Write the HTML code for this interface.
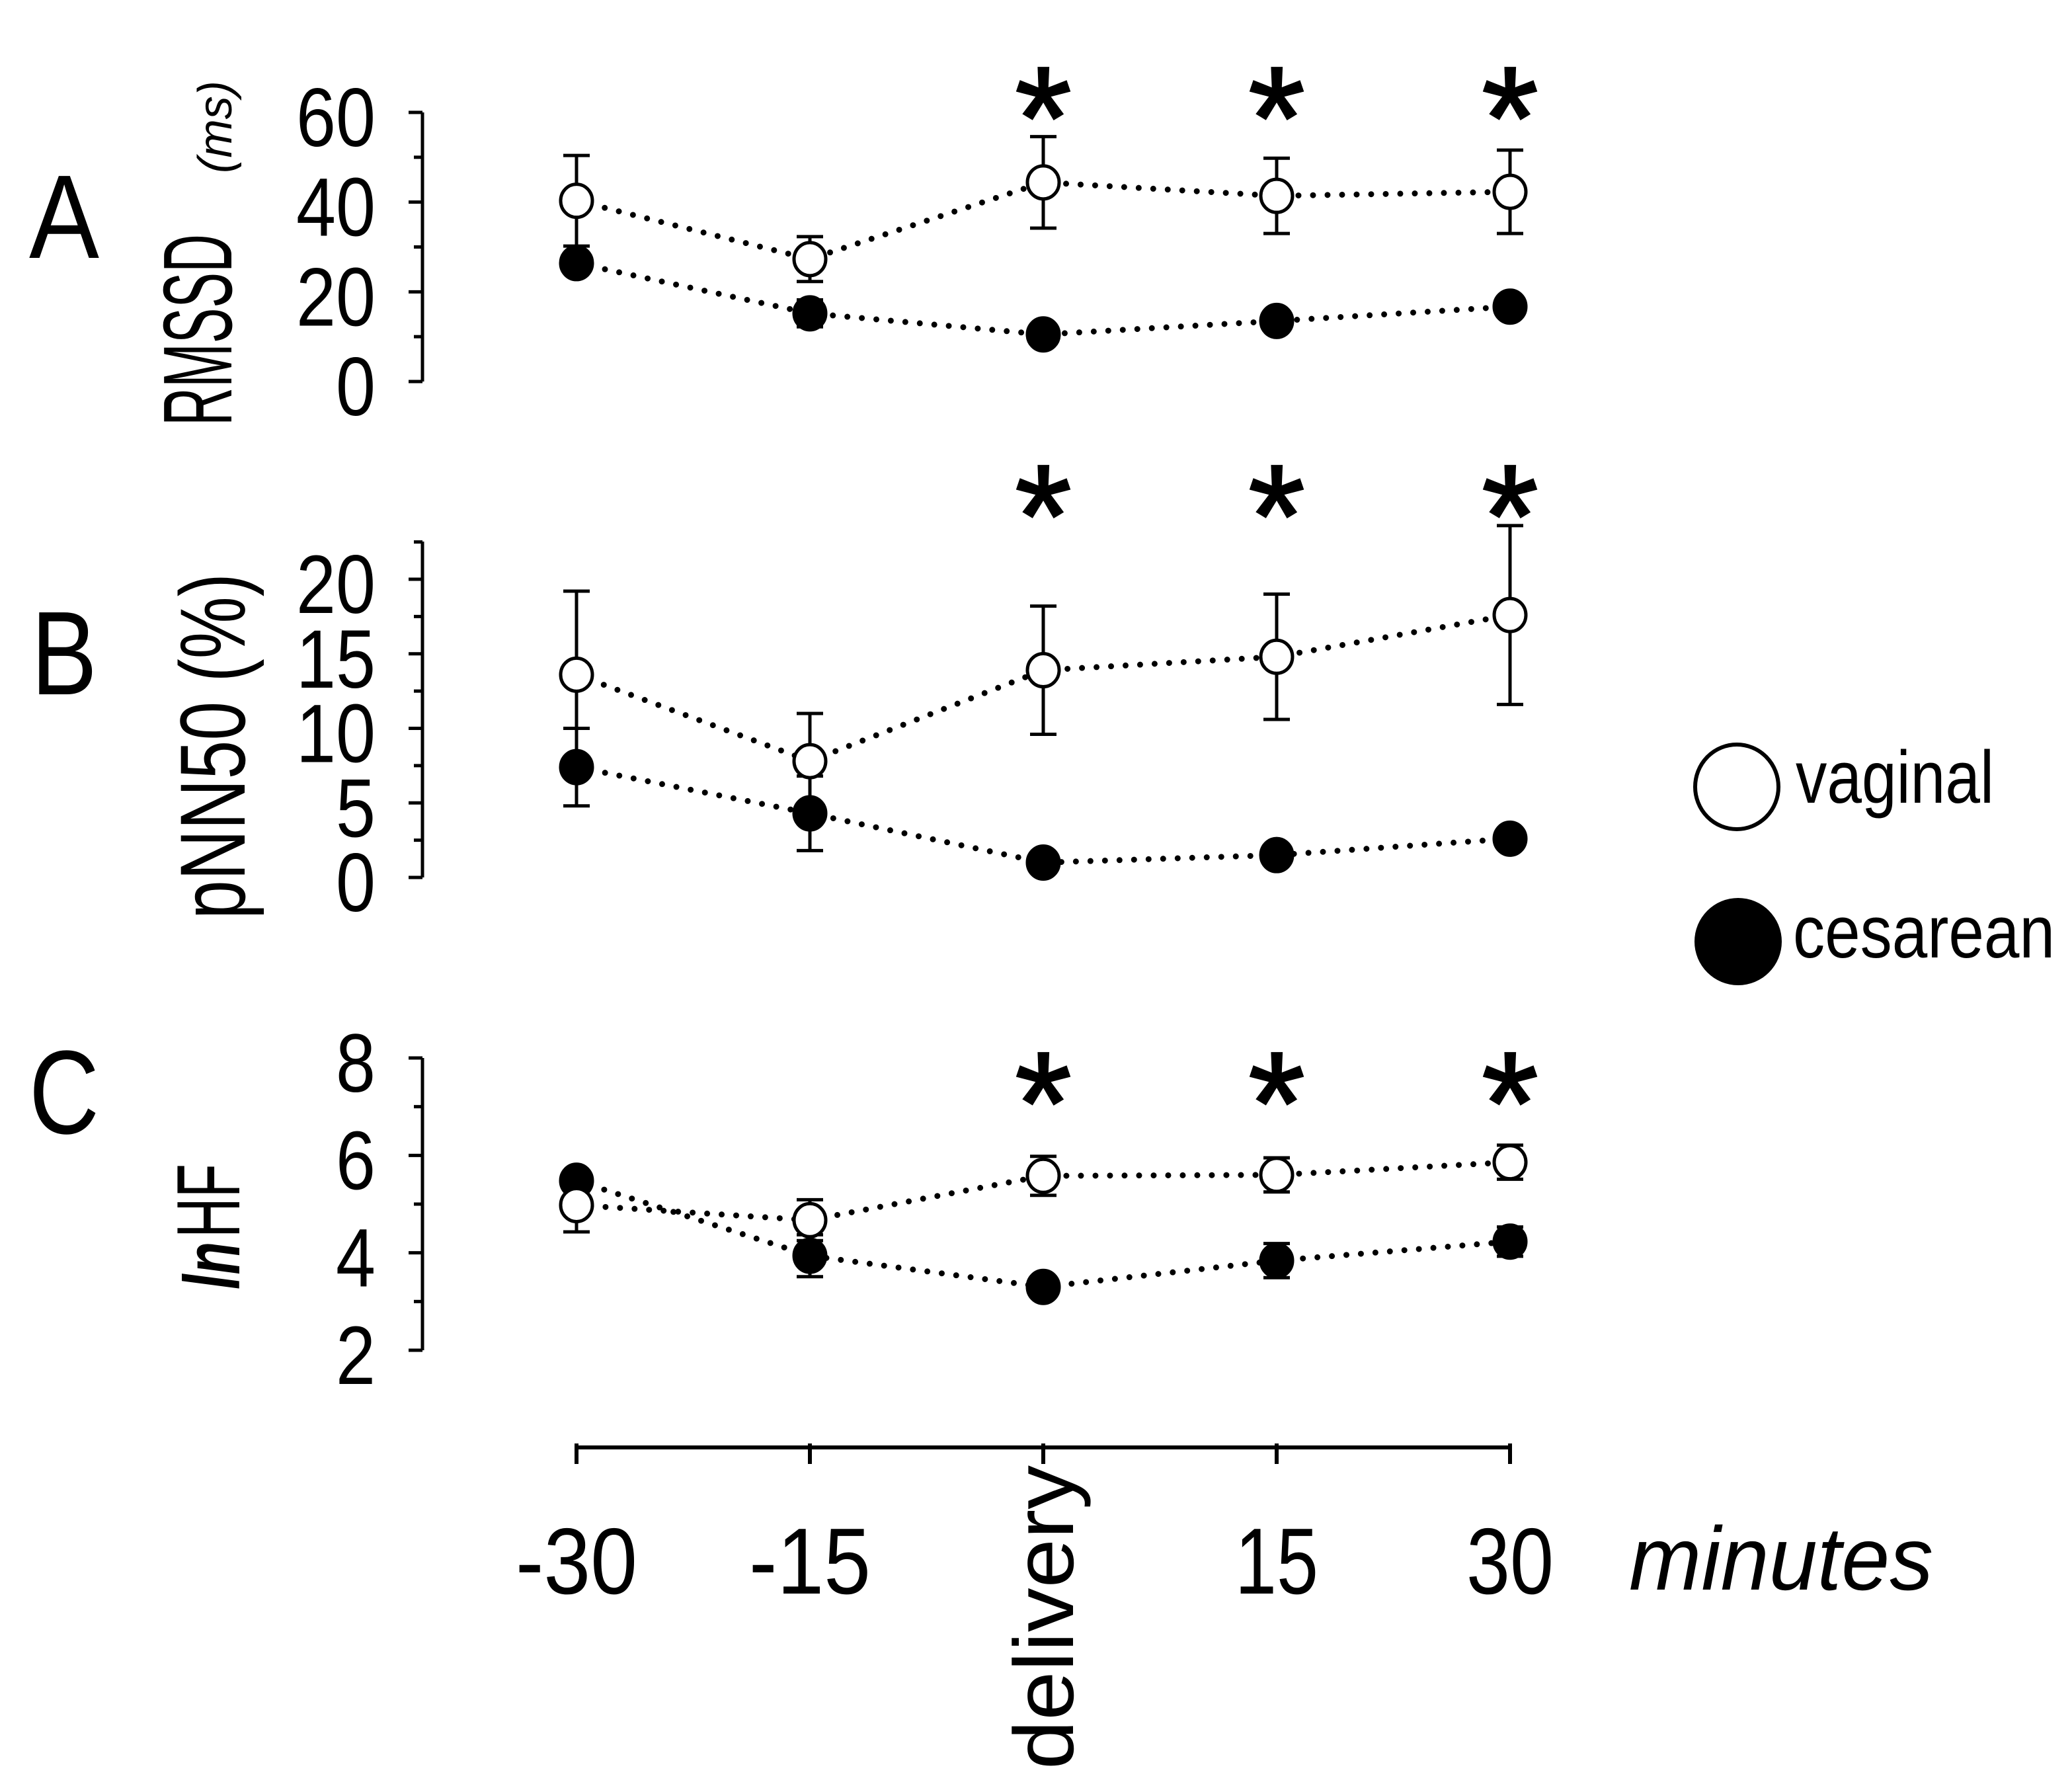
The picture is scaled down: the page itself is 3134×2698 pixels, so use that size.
<!DOCTYPE html>
<html><head><meta charset="utf-8"><style>
html,body{margin:0;padding:0;background:#fff;}
svg{display:block;font-family:"Liberation Sans",Arial,sans-serif;}
</style></head><body>
<svg id="chart" width="3134" height="2698" viewBox="0 0 3134 2698" xmlns="http://www.w3.org/2000/svg">
<g id="layer-lines"></g>
<g id="layer-err"></g>
<g id="layer-marks"></g>
<g id="layer-axes"></g>
<g id="layer-text"></g>
</svg>
<script>
// ---- data ----
const categories = ["-30", "-15", "delivery", "15", "30"];
const rmssdVag = [40.3, 27.3, 44.4, 41.4, 42.3];
const rmssdVagErr = [10.1, 5.0, 10.2, 8.4, 9.3];
const rmssdCes = [26.4, 15.2, 10.5, 13.5, 16.7];
const rmssdCesErr = [1.5, 3.0, 1.0, 1.0, 1.0];
const pnnVag = [13.6, 7.8, 13.9, 14.8, 17.6];
const pnnVagErr = [5.6, 3.2, 4.3, 4.2, 6.0];
const pnnCes = [7.4, 4.3, 1.0, 1.5, 2.6];
const pnnCesErr = [2.6, 2.5, 0.3, 0.3, 0.5];
const hfVag = [4.98, 4.67, 5.58, 5.6, 5.86];
const hfVagErr = [0.55, 0.42, 0.4, 0.35, 0.35];
const hfCes = [5.48, 3.94, 3.3, 3.84, 4.23];
const hfCesErr = [0.2, 0.43, 0.15, 0.35, 0.3];
const rmssdTicks = [0, 20, 40, 60];
const pnnTicks = [0, 5, 10, 15, 20];
const hfTicks = [2, 4, 6, 8];
const sigFlags = [false, false, true, true, true];

const NS = "http://www.w3.org/2000/svg";
function mk(tag, attrs, parent) {
  const e = document.createElementNS(NS, tag);
  for (const k in attrs) e.setAttribute(k, attrs[k]);
  parent.appendChild(e);
  return e;
}
const L = document.getElementById('layer-lines');
const E = document.getElementById('layer-err');
const M = document.getElementById('layer-marks');
const A = document.getElementById('layer-axes');
const T = document.getElementById('layer-text');

function xPos(i) { return 872 + i * 353; }
const panels = [
  {key:'a', vag:rmssdVag, vagE:rmssdVagErr, ces:rmssdCes, cesE:rmssdCesErr, ticks:rmssdTicks, min:0, max:60, y0:577, y1:170, top:170, minor:10, starY:150},
  {key:'b', vag:pnnVag, vagE:pnnVagErr, ces:pnnCes, cesE:pnnCesErr, ticks:pnnTicks, min:0, max:20, y0:1327, y1:876, top:819, minor:2.5, starY:752},
  {key:'c', vag:hfVag, vagE:hfVagErr, ces:hfCes, cesE:hfCesErr, ticks:hfTicks, min:2, max:8, y0:2042, y1:1600, top:1600, minor:1, starY:1640}
];

panels.forEach(p => {
  const yS = v => p.y0 - (v - p.min) / (p.max - p.min) * (p.y0 - p.y1);
  const ax = mk('line', {x1:639, x2:639, y1:p.top, y2:p.y0, stroke:'#000', 'stroke-width':5}, A);
  
  
  for (let v = p.min; v <= p.max + (p.top < p.y1 ? p.minor : 0) + 1e-6; v += p.minor) {
    const y = yS(v);
    if (y < p.top - 1) break;
    const major = p.ticks.some(t => Math.abs(t - v) < 1e-6);
    const tk = mk('line', {x1: major ? 618 : 626, x2:639, y1:y, y2:y, stroke:'#000', 'stroke-width':5}, A);
    
    
  }
  p.ticks.forEach(t => {
    const s = String(t);
    const tx = mk('text', {x:568, y:yS(t) + 51, 'font-size':125, 'text-anchor':'end', textLength:s.length*60, lengthAdjust:'spacingAndGlyphs', fill:'#000'}, T);
    
    
    tx.textContent = s;
  });
  [['ces', p.ces], ['vag', p.vag]].forEach(([nm, arr]) => {
    const pts = arr.map((v, i) => xPos(i) + ',' + yS(v)).join(' ');
    const pl = mk('polyline', {points:pts, fill:'none', stroke:'#000', 'stroke-width':9, 'stroke-linecap':'round', 'stroke-dasharray':'0 22'}, L);
    
    
  });
  [['ces', p.ces, p.cesE], ['vag', p.vag, p.vagE]].forEach(([nm, arr, err]) => {
    arr.forEach((v, i) => {
      const x = xPos(i), yt = yS(v + err[i]), yb = yS(v - err[i]);
      const eb = mk('path', {d:`M${x} ${yt}V${yb}M${x-20} ${yt}H${x+20}M${x-20} ${yb}H${x+20}`, stroke:'#000', 'stroke-width':5, fill:'none'}, E);
      
      
    });
  });
  [['ces', p.ces, '#000'], ['vag', p.vag, '#fff']].forEach(([nm, arr, fill]) => {
    arr.forEach((v, i) => {
      const c = mk('ellipse', {cx:xPos(i), cy:yS(v), rx:24, ry:25, fill:fill, stroke:'#000', 'stroke-width':5}, M);
      
      
    });
  });
  sigFlags.forEach((s, i) => {
    if (!s) return;
    const st = mk('text', {x:xPos(i), y:p.starY + 104, 'font-size':220, 'text-anchor':'middle', fill:'#000', stroke:'#000', 'stroke-width':3}, T);
    
    
    st.textContent = '*';
  });
});

const xa = mk('line', {x1:872, x2:2284, y1:2189, y2:2189, stroke:'#000', 'stroke-width':6}, A);


const xLabelWidths = [184, 184, 460, 126, 132];
categories.forEach((c, i) => {
  const tk = mk('line', {x1:xPos(i), x2:xPos(i), y1:2183, y2:2214, stroke:'#000', 'stroke-width':6}, A);
  
  
  let tx;
  if (c === 'delivery') {
    tx = mk('text', {x:0, y:0, 'font-size':128, 'text-anchor':'middle', transform:`translate(${xPos(i)+45},2446) rotate(-90)`, textLength:460, lengthAdjust:'spacingAndGlyphs', fill:'#000'}, T);
  } else {
    tx = mk('text', {x:xPos(i), y:2410, 'font-size':142, 'text-anchor':'middle', textLength:xLabelWidths[i], lengthAdjust:'spacingAndGlyphs', fill:'#000'}, T);
  }
  
  
  tx.textContent = c;
});
</script>
<script>
const T2 = document.getElementById('layer-text');
function tx2(attrs, txt, name) {
  const e = document.createElementNS("http://www.w3.org/2000/svg", 'text');
  for (const k in attrs) e.setAttribute(k, attrs[k]);
  
  
  e.textContent = txt;
  T2.appendChild(e);
  return e;
}
tx2({x:2464, y:2404, 'font-size':136, 'font-style':'italic', textLength:460, lengthAdjust:'spacingAndGlyphs'}, 'minutes', 'x-axis-title');
tx2({x:97, y:390, 'font-size':180, 'text-anchor':'middle', textLength:106, lengthAdjust:'spacingAndGlyphs'}, 'A', 'panel-label-a');
tx2({x:97, y:1050, 'font-size':180, 'text-anchor':'middle', textLength:100, lengthAdjust:'spacingAndGlyphs'}, 'B', 'panel-label-b');
tx2({x:97, y:1714, 'font-size':180, 'text-anchor':'middle', textLength:106, lengthAdjust:'spacingAndGlyphs'}, 'C', 'panel-label-c');
tx2({x:0, y:0, 'font-size':148, transform:'translate(350,644) rotate(-90)', textLength:290, lengthAdjust:'spacingAndGlyphs'}, 'RMSSD', 'y-axis-title-a');
tx2({x:0, y:0, 'font-size':72, 'font-style':'italic', transform:'translate(350,262) rotate(-90)', textLength:140, lengthAdjust:'spacingAndGlyphs'}, '(ms)', 'y-axis-unit-a');
tx2({x:0, y:0, 'font-size':140, transform:'translate(370,1390) rotate(-90)', textLength:523, lengthAdjust:'spacingAndGlyphs'}, 'pNN50 (%)', 'y-axis-title-b');
tx2({x:0, y:0, 'font-size':120, 'font-weight':'bold', 'font-style':'italic', transform:'translate(362,1950) rotate(-90)', textLength:72, lengthAdjust:'spacingAndGlyphs'}, 'ln', 'y-axis-title-c-ln');
tx2({x:0, y:0, 'font-size':136, transform:'translate(362,1872) rotate(-90)', textLength:112, lengthAdjust:'spacingAndGlyphs'}, 'HF', 'y-axis-title-c');
const M2 = document.getElementById('layer-marks');
const lg1 = document.createElementNS("http://www.w3.org/2000/svg", 'ellipse');
lg1.setAttribute('cx', 2627); lg1.setAttribute('cy', 1190); lg1.setAttribute('rx', 63); lg1.setAttribute('ry', 64);
lg1.setAttribute('fill', '#fff'); lg1.setAttribute('stroke', '#000'); lg1.setAttribute('stroke-width', 6);


M2.appendChild(lg1);
const lg2 = document.createElementNS("http://www.w3.org/2000/svg", 'ellipse');
lg2.setAttribute('cx', 2629); lg2.setAttribute('cy', 1424); lg2.setAttribute('rx', 66); lg2.setAttribute('ry', 66);
lg2.setAttribute('fill', '#000');


M2.appendChild(lg2);
tx2({x:2716, y:1214, 'font-size':112, textLength:300, lengthAdjust:'spacingAndGlyphs'}, 'vaginal', 'legend-label-vaginal');
tx2({x:2712, y:1448, 'font-size':112, textLength:396, lengthAdjust:'spacingAndGlyphs'}, 'cesarean', 'legend-label-cesarean');
</script>
</body></html>
